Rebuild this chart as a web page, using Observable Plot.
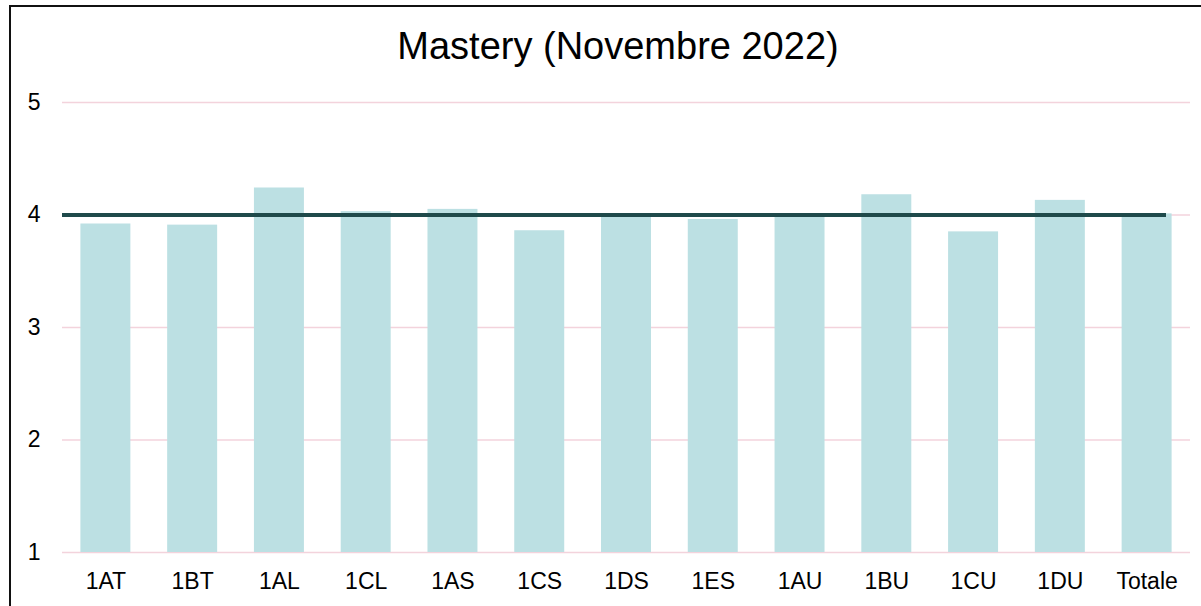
<!DOCTYPE html>
<html>
<head>
<meta charset="utf-8">
<script src="https://cdn.jsdelivr.net/npm/d3@7"></script>
<script src="https://cdn.jsdelivr.net/npm/@observablehq/plot@0.6"></script>
<style>
  html, body { margin: 0; padding: 0; background: #fff; overflow: hidden; }
  #wrap { position: relative; width: 1201px; height: 606px; font-family: "Liberation Sans", Arial, sans-serif; }
  #border { position: absolute; left: 9px; top: 5px; width: 1400px; height: 800px; border: 2px solid #111; pointer-events: none; }
  #title { box-sizing: border-box; height: 70px; width: 1201px; padding-top: 28px; padding-left: 35px; text-align: center; font-size: 38px; line-height: 37px; color: #000; }
  #chart svg { display: block; }
</style>
</head>
<body>
<div id="wrap">
  <div id="title">Mastery (Novembre 2022)</div>
  <div id="chart"></div>
  <div id="border"></div>
</div>
<script>
const categories = ["1AT","1BT","1AL","1CL","1AS","1CS","1DS","1ES","1AU","1BU","1CU","1DU","Totale"];
const values = [3.92, 3.91, 4.24, 4.03, 4.05, 3.86, 3.99, 3.96, 4.01, 4.18, 3.85, 4.13, 4.01];
const target = 4;
const yTicks = [1, 2, 3, 4, 5];

const data = categories.map((c, i) => ({cat: c, value: values[i]}));

const chart = Plot.plot({
  width: 1201,
  height: 536,
  marginLeft: 62,
  marginRight: 11,
  marginTop: 32,
  marginBottom: 54,
  style: {fontFamily: '"Liberation Sans", Arial, sans-serif', fontSize: "23px", color: "#000", background: "#fff"},
  x: {domain: categories, paddingInner: 0.424, paddingOuter: 0.212, round: false, label: null},
  y: {domain: [yTicks[0], yTicks[yTicks.length - 1]], label: null},
  marks: [
    Plot.ruleY(yTicks, {stroke: "#F3D3DC", strokeWidth: 1.6}),
    Plot.barY(data, {x: "cat", y1: yTicks[0], y2: "value", fill: "#BCE0E3"}),
    Plot.ruleY([target], {stroke: "#1F4A4B", strokeWidth: 4, insetRight: 24}),
    Plot.axisY({ticks: yTicks, tickFormat: "d", tickSize: 0, tickPadding: 22, fontSize: 23, label: null}),
    Plot.axisX({tickSize: 0, tickPadding: 20, fontSize: 23, label: null})
  ]
});
document.getElementById("chart").appendChild(chart);
</script>
</body>
</html>
